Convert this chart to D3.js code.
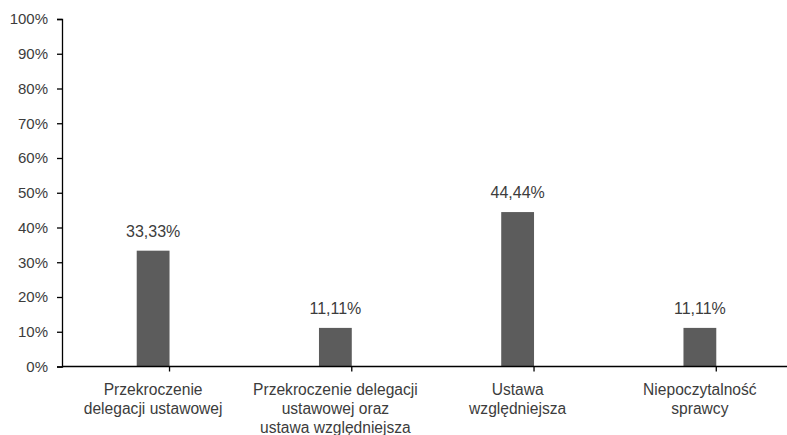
<!DOCTYPE html>
<html>
<head>
<meta charset="utf-8">
<script src="https://cdn.jsdelivr.net/npm/d3@7"></script>
<style>
  body { margin: 0; background: #fff; }
  svg { display: block; }
  text { font-family: "Liberation Sans", Arial, sans-serif; fill: #3c3c3c; }
</style>
</head>
<body>
<script>
// dane
const kategorie = [
    ["Przekroczenie", "delegacji ustawowej"],
    ["Przekroczenie delegacji", "ustawowej oraz", "ustawa względniejsza"],
    ["Ustawa", "względniejsza"],
    ["Niepoczytalność", "sprawcy"]
]
const wartosci = [33.33, 11.11, 44.44, 11.11]
const etykiety = ["33,33%", "11,11%", "44,44%", "11,11%"]
const ticksY = [0, 10, 20, 30, 40, 50, 60, 70, 80, 90, 100]

var width = 787
var height = 435

var svg = d3.select("body")
    .append("svg")
        .attr("width", width)
        .attr("height", height)

//EJE Y
var y = d3.scaleLinear()
    .domain([0, 100])
    .range([366.5, 19])

//EJE X
var x = d3.scaleBand()
    .domain(d3.range(kategorie.length))
    .range([62, 791])
    .paddingInner(0.82)
    .paddingOuter(0.41)

var ejeY = svg.append("g")
    .attr("transform", "translate(62,0)")
    .call(d3.axisLeft(y).tickValues(ticksY).tickSize(5).tickPadding(9).tickFormat(d => d + "%"))
ejeY.select(".domain").attr("stroke", "#000").attr("stroke-width", 1.3)
ejeY.selectAll(".tick line").attr("stroke", "#000").attr("stroke-width", 1.3)
ejeY.selectAll(".tick text")
    .style("font-size", "15px")
    .style("fill", "#3c3c3c")
    .attr("font-family", null)

// Barras
svg.selectAll("rect.bar")
    .data(wartosci)
    .enter()
    .append("rect")
        .attr("class", "bar")
        .attr("x", (d, i) => x(i))
        .attr("width", x.bandwidth())
        .attr("y", d => y(d))
        .attr("height", d => y(0) - y(d))
        .attr("fill", "#5c5c5c")

// eje X con marcas entre categorias
var paso = x.step()
var granice = d3.range(kategorie.length + 1).map(i => x(0) - x.paddingOuter() * paso - x.paddingInner() * x.step() / 2 + i * paso)
svg.append("line")
    .attr("x1", 62).attr("x2", width)
    .attr("y1", y(0)).attr("y2", y(0))
    .attr("stroke", "#000").attr("stroke-width", 1.3)
svg.selectAll("line.sep")
    .data(granice)
    .enter()
    .append("line")
        .attr("class", "sep")
        .attr("x1", d => d).attr("x2", d => d)
        .attr("y1", y(0)).attr("y2", y(0) + 5)
        .attr("stroke", "#000").attr("stroke-width", 1.3)

// etiquetas de valor
svg.selectAll("text.val")
    .data(wartosci)
    .enter()
    .append("text")
        .attr("class", "val")
        .attr("x", (d, i) => x(i) + x.bandwidth() / 2)
        .attr("y", d => y(d) - 14)
        .attr("text-anchor", "middle")
        .style("font-size", "16px")
        .text((d, i) => etykiety[i])

// etiquetas de categoria
var grupos = svg.selectAll("text.cat")
    .data(kategorie)
    .enter()
    .append("text")
        .attr("class", "cat")
        .attr("text-anchor", "middle")
        .style("font-size", "15.6px")
grupos.selectAll("tspan")
    .data((d, i) => d.map(t => ({t: t, i: i})))
    .enter()
    .append("tspan")
        .attr("x", d => x(d.i) + x.bandwidth() / 2)
        .attr("y", (d, j) => 395 + j * 19)
        .text(d => d.t)
</script>
</body>
</html>
